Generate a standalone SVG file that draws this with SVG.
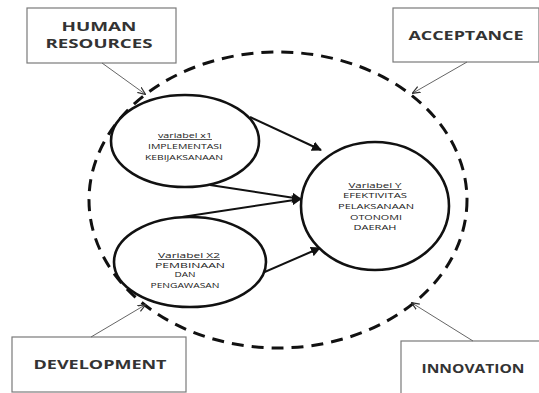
<svg xmlns="http://www.w3.org/2000/svg" width="539" height="393" viewBox="0 0 539 393">
<style>
.box{fill:#fff;stroke:#7a7a7a;stroke-width:1.2}
.bt{font-family:"Open Sans","Liberation Sans",sans-serif;font-weight:bold;font-size:13px;fill:#333;text-anchor:middle}
.bt2{font-size:12px}
.el{fill:#fff;stroke:#111;stroke-width:2.6}
.st{font-family:"Open Sans","Liberation Sans",sans-serif;font-size:7.5px;fill:#222;text-anchor:middle}
.u{text-decoration:underline}
.thick{stroke:#111;stroke-width:2;fill:none}
.thin{stroke:#666;stroke-width:1;fill:none}
</style>
<defs>
<marker id="ah" viewBox="0 0 10 10" refX="9" refY="5" markerWidth="5" markerHeight="5" orient="auto" markerUnits="strokeWidth">
<path d="M0,0 L10,5 L0,10 z" fill="#111"/>
</marker>
<marker id="ahs" viewBox="0 0 10 10" refX="9" refY="5" markerWidth="8" markerHeight="8" orient="auto" markerUnits="strokeWidth">
<path d="M0,1 L10,5 L0,9" fill="none" stroke="#333" stroke-width="1.5"/>
</marker>
</defs>
<rect width="539" height="393" fill="#fff"/>
<g id="boundary">
<ellipse cx="278" cy="200" rx="189" ry="148" fill="none" stroke="#111" stroke-width="3" stroke-dasharray="12 8"/>
</g>
<g id="human-resources">
<rect class="box" x="27" y="8" width="149" height="55"/>
<text class="bt bt2" x="99" y="31" textLength="75" lengthAdjust="spacingAndGlyphs">HUMAN</text>
<text class="bt bt2" x="99" y="48" textLength="107" lengthAdjust="spacingAndGlyphs">RESOURCES</text>
</g>
<g id="acceptance">
<rect class="box" x="393" y="8" width="146" height="54"/>
<text class="bt" x="466" y="40" textLength="115" lengthAdjust="spacingAndGlyphs">ACCEPTANCE</text>
</g>
<g id="development">
<rect class="box" x="12" y="337" width="174" height="55"/>
<text class="bt" x="100" y="369" textLength="133" lengthAdjust="spacingAndGlyphs">DEVELOPMENT</text>
</g>
<g id="innovation">
<rect class="box" x="401" y="341" width="140" height="60"/>
<text class="bt" x="473" y="373" textLength="103" lengthAdjust="spacingAndGlyphs">INNOVATION</text>
</g>
<g id="connectors">
<line class="thin" x1="102" y1="63" x2="145" y2="94" marker-end="url(#ahs)"/>
<line class="thin" x1="467" y1="62" x2="413" y2="93" marker-end="url(#ahs)"/>
<line class="thin" x1="91" y1="337" x2="145" y2="305" marker-end="url(#ahs)"/>
<line class="thin" x1="473" y1="341" x2="412" y2="303" marker-end="url(#ahs)"/>
<line class="thick" x1="250" y1="117" x2="321" y2="150" marker-end="url(#ah)"/>
<line class="thick" x1="210" y1="185" x2="301" y2="199" marker-end="url(#ah)"/>
<line class="thick" x1="182" y1="217" x2="301" y2="199" marker-end="url(#ah)"/>
<line class="thick" x1="253" y1="277" x2="320" y2="248" marker-end="url(#ah)"/>
</g>
<g id="x1">
<ellipse class="el" cx="185" cy="141" rx="74" ry="46"/>
<text class="st u" x="185" y="138" textLength="54" lengthAdjust="spacingAndGlyphs">variabel x1</text>
<text class="st" x="185" y="149" textLength="74" lengthAdjust="spacingAndGlyphs">IMPLEMENTASI</text>
<text class="st" x="184" y="160" textLength="78" lengthAdjust="spacingAndGlyphs">KEBIJAKSANAAN</text>
</g>
<g id="x2">
<ellipse class="el" cx="190" cy="262" rx="76" ry="45"/>
<text class="st u" x="189" y="258" textLength="62" lengthAdjust="spacingAndGlyphs">Variabel X2</text>
<text class="st" x="190" y="268" textLength="70" lengthAdjust="spacingAndGlyphs">PEMBINAAN</text>
<text class="st" x="185" y="277" textLength="21" lengthAdjust="spacingAndGlyphs">DAN</text>
<text class="st" x="185" y="288" textLength="69" lengthAdjust="spacingAndGlyphs">PENGAWASAN</text>
</g>
<g id="y">
<ellipse class="el" cx="375" cy="206" rx="74" ry="64"/>
<text class="st u" x="375" y="188" textLength="53" lengthAdjust="spacingAndGlyphs">Variabel Y</text>
<text class="st" x="375" y="198" textLength="64" lengthAdjust="spacingAndGlyphs">EFEKTIVITAS</text>
<text class="st" x="376" y="209" textLength="76" lengthAdjust="spacingAndGlyphs">PELAKSANAAN</text>
<text class="st" x="376" y="220" textLength="52" lengthAdjust="spacingAndGlyphs">OTONOMI</text>
<text class="st" x="375" y="230" textLength="43" lengthAdjust="spacingAndGlyphs">DAERAH</text>
</g>
</svg>
